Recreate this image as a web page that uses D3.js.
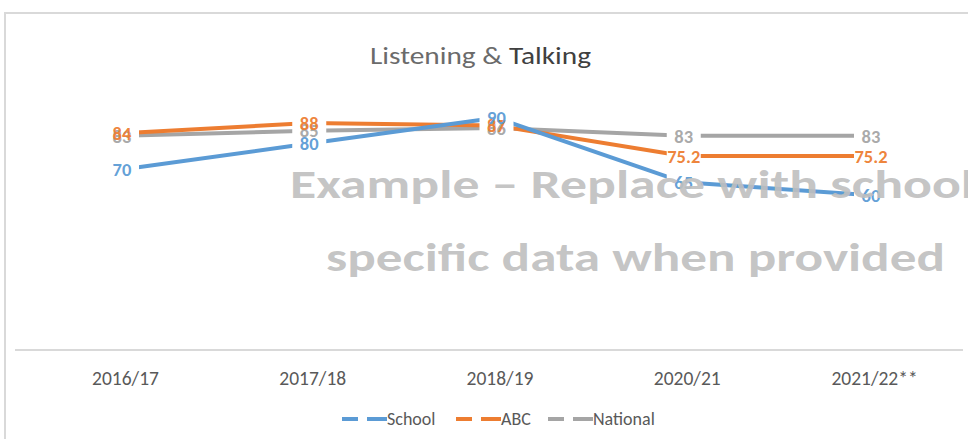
<!DOCTYPE html>
<html><head><meta charset="utf-8">
<script src="https://cdn.jsdelivr.net/npm/d3@7"></script>
<style>body{margin:0;background:#fff}svg{display:block}</style>
</head><body>
<svg id="c" width="968" height="439"></svg>
<script>
const categories = ["2016/17","2017/18","2018/19","2020/21","2021/22**"];
const school = [70, 80, 90, 65, 60];
const abc = [84, 88, 87, 75.2, 75.2];
const national = [83, 85, 86, 83, 83];
const seriesNames = ["School","ABC","National"];
const colors = ["#5B9BD5","#ED7D31","#A5A5A5"];
const yDomain = [0, 100];

const svg = d3.select("#c");
const font = "Carlito, Lato, 'Open Sans', sans-serif";

// chart border
svg.append("path").attr("d","M5,439 V13 H968").attr("fill","none").attr("stroke","#d9d9d9").attr("stroke-width",2);

const x = d3.scalePoint().domain(categories).range([122, 871]);
const y = d3.scaleLinear().domain(yDomain).range([350, 92]);

// axis baseline
svg.append("line").attr("x1",15).attr("x2",963).attr("y1",y(0)).attr("y2",y(0)).attr("stroke","#d9d9d9").attr("stroke-width",2);

// category labels
const xa = svg.append("g").attr("transform",`translate(0,${y(0)})`).call(d3.axisBottom(x).tickSize(0).tickPadding(21));
xa.select(".domain").remove();
xa.selectAll("text").attr("font-family",font).attr("font-size",19.5).attr("fill","#595959").attr("dx",3);

// title
const t = svg.append("text").attr("x",370).attr("y",64).attr("font-family",font).attr("font-size",24)
  .attr("textLength",221).attr("lengthAdjust","spacingAndGlyphs");
t.append("tspan").attr("fill","#6b6b6b").text("Listening & ");
t.append("tspan").attr("fill","#404040").text("Talking");

const data = [school, abc, national];
const line = d3.line().x((d,i)=>x(categories[i])).y(d=>y(d));
[2,1,0].forEach(s=>{
  svg.append("path").datum(data[s]).attr("d",line).attr("fill","none")
    .attr("stroke",colors[s]).attr("stroke-width",4).attr("stroke-linejoin","round");
});
// gaps around points
categories.forEach(c=>{
  svg.append("rect").attr("x",x(c)-17).attr("y",95).attr("width",34).attr("height",110).attr("fill","#fff");
});
// labels
[2,1,0].forEach(s=>{
  data[s].forEach((v,i)=>{
    svg.append("text").attr("x",x(categories[i])).attr("y",y(v)).attr("dy","0.36em")
      .attr("text-anchor","middle").attr("font-family",font).attr("font-size",18.5).attr("font-weight","bold")
      .attr("fill",colors[s]).attr("fill-opacity",0.95).text(v);
  });
});

// watermark
const wm = svg.append("g").attr("font-family",font).attr("font-size",41).attr("font-weight","bold").attr("fill","#BFBFBF").attr("fill-opacity",0.92);
wm.append("text").attr("x",290).attr("y",198).attr("textLength",684).attr("lengthAdjust","spacingAndGlyphs").text("Example – Replace with school");
wm.append("text").attr("x",326).attr("y",271).attr("textLength",619).attr("lengthAdjust","spacingAndGlyphs").text("specific data when provided");

// legend
const lg = svg.append("g").attr("font-family",font).attr("font-size",18).attr("fill","#595959");
const lx = [342, 456, 548];
seriesNames.forEach((n,i)=>{
  lg.append("line").attr("x1",lx[i]).attr("x2",lx[i]+45).attr("y1",419).attr("y2",419)
    .attr("stroke",colors[i]).attr("stroke-width",4).attr("stroke-dasharray","16,9,20");
  lg.append("text").attr("x",lx[i]+45).attr("y",425).text(n);
});
</script>
</body></html>
